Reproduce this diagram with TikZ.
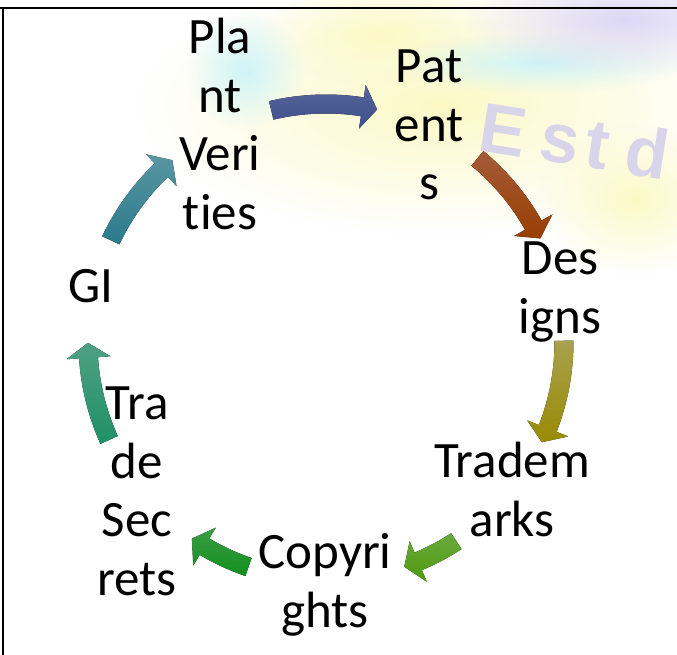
\documentclass[tikz,border=0pt]{standalone}
\usepackage{fontspec}
\setmainfont{Carlito}[Ligatures={NoCommon}]
\newfontfamily\wmfont{Liberation Sans}
\usetikzlibrary{fadings}
\tikzfading[name=softoval, inner color=transparent!0, outer color=transparent!100]
\definecolor{aAt}{HTML}{56659A}\definecolor{aAb}{HTML}{3D4F8B}
\definecolor{aBt}{HTML}{A55A38}\definecolor{aBb}{HTML}{983F02}
\definecolor{aCt}{HTML}{A8A14E}\definecolor{aCb}{HTML}{9A8A04}
\definecolor{aDt}{HTML}{6AA83E}\definecolor{aDb}{HTML}{4E9C10}
\definecolor{aEt}{HTML}{3C9C44}\definecolor{aEb}{HTML}{10901E}
\definecolor{aFt}{HTML}{4FA084}\definecolor{aFb}{HTML}{1F9068}
\definecolor{aGt}{HTML}{5A96A2}\definecolor{aGb}{HTML}{2A7A8C}
\definecolor{wmYel}{HTML}{FCF9C6}
\definecolor{wmCyan}{HTML}{CFF4F8}
\definecolor{wmLav}{HTML}{DCD7F4}
\definecolor{wmText}{HTML}{D8D4EA}
\def\cx{326}\def\cy{313}
\def\Ro{247.5}\def\Ri{228.5}\def\Rh{260}\def\Rl{216}\def\Rm{238}
\newcommand\cyclarrow[4]{%
  \pgfmathsetmacro\hb{#2+3.6}%
  \fill[top color=#3, bottom color=#4]
    ({\cx+\Ro*cos(#1)},{\cy+\Ro*sin(#1)}) arc[start angle=#1, end angle=\hb, radius=\Ro pt]
    -- ({\cx+\Rh*cos(\hb)},{\cy+\Rh*sin(\hb)})
    -- ({\cx+\Rm*cos(#2)},{\cy+\Rm*sin(#2)})
    -- ({\cx+\Rl*cos(\hb)},{\cy+\Rl*sin(\hb)})
    -- ({\cx+\Ri*cos(\hb)},{\cy+\Ri*sin(\hb)})
    arc[start angle=\hb, end angle=#1, radius=\Ri pt] -- cycle;}
\tikzset{
  lbl/.style={anchor=base, inner sep=0pt, text=black, font=\fontsize{51}{58.4}\selectfont},
  blob/.style={path fading=softoval},
  frame/.style={line width=2.2pt, black},
  wmark/.style={inner sep=0pt, anchor=base west, rotate=-9, text=wmText,
      font=\wmfont\bfseries\fontsize{70}{70}\selectfont}
}
\begin{document}
\begin{tikzpicture}[x=1pt, y=1pt]
\useasboundingbox (0,0) rectangle (677,655);
\clip (0,0) rectangle (677,655);
\fill[white] (0,0) rectangle (677,655);
% watermark
\fill[wmYel, blob] (440,550) ellipse [x radius=300pt, y radius=130pt];
\fill[wmYel, blob] (635,455) ellipse [x radius=100pt, y radius=75pt];
\fill[wmYel, blob] (380,620) ellipse [x radius=120pt, y radius=50pt];
\fill[wmCyan, blob] (245,585) ellipse [x radius=60pt, y radius=60pt];
\fill[wmCyan, blob] (540,592) ellipse [x radius=150pt, y radius=30pt];
\fill[wmLav, blob] (625,635) ellipse [x radius=160pt, y radius=55pt];
\node[wmark] (estd) at (476,505) {E\hspace{15pt}s\hspace{7pt}t\hspace{17pt}d};
% frame
\draw[frame] (0,647) -- (677,647);
\draw[frame] (3,0) -- (3,647);
% arrows
\cyclarrow{103.3}{77.6}{aAt}{aAb}
\cyclarrow{50.5}{25.8}{aBt}{aBb}
\cyclarrow{0.3}{-24.9}{aCt}{aCb}
\cyclarrow{-56.8}{-70.8}{aDt}{aDb}
\cyclarrow{-109}{-124.3}{aEt}{aEb}
\cyclarrow{204.3}{180.2}{aFt}{aFb}
\cyclarrow{154.7}{130.2}{aGt}{aGb}
% labels
\node[lbl] (plant) at (220,601) {\begin{tabular}[t]{@{}c@{}}Pla\\nt\\Veri\\ties\end{tabular}};
\node[lbl] (patents) at (429,572) {\begin{tabular}[t]{@{}c@{}}Pat\\ent\\s\end{tabular}};
\node[lbl] (designs) at (560,380) {\begin{tabular}[t]{@{}c@{}}Des\\igns\end{tabular}};
\node[lbl] (trademarks) at (512,177) {\begin{tabular}[t]{@{}c@{}}Tradem\\arks\end{tabular}};
\node[lbl] (copyrights) at (325,86) {\begin{tabular}[t]{@{}c@{}}Copyri\\ghts\end{tabular}};
\node[lbl] (secrets) at (137,235) {\begin{tabular}[t]{@{}c@{}}Tra\\de\\Sec\\rets\end{tabular}};
\node[lbl] (gi) at (91,352) {GI};
\end{tikzpicture}
\end{document}
